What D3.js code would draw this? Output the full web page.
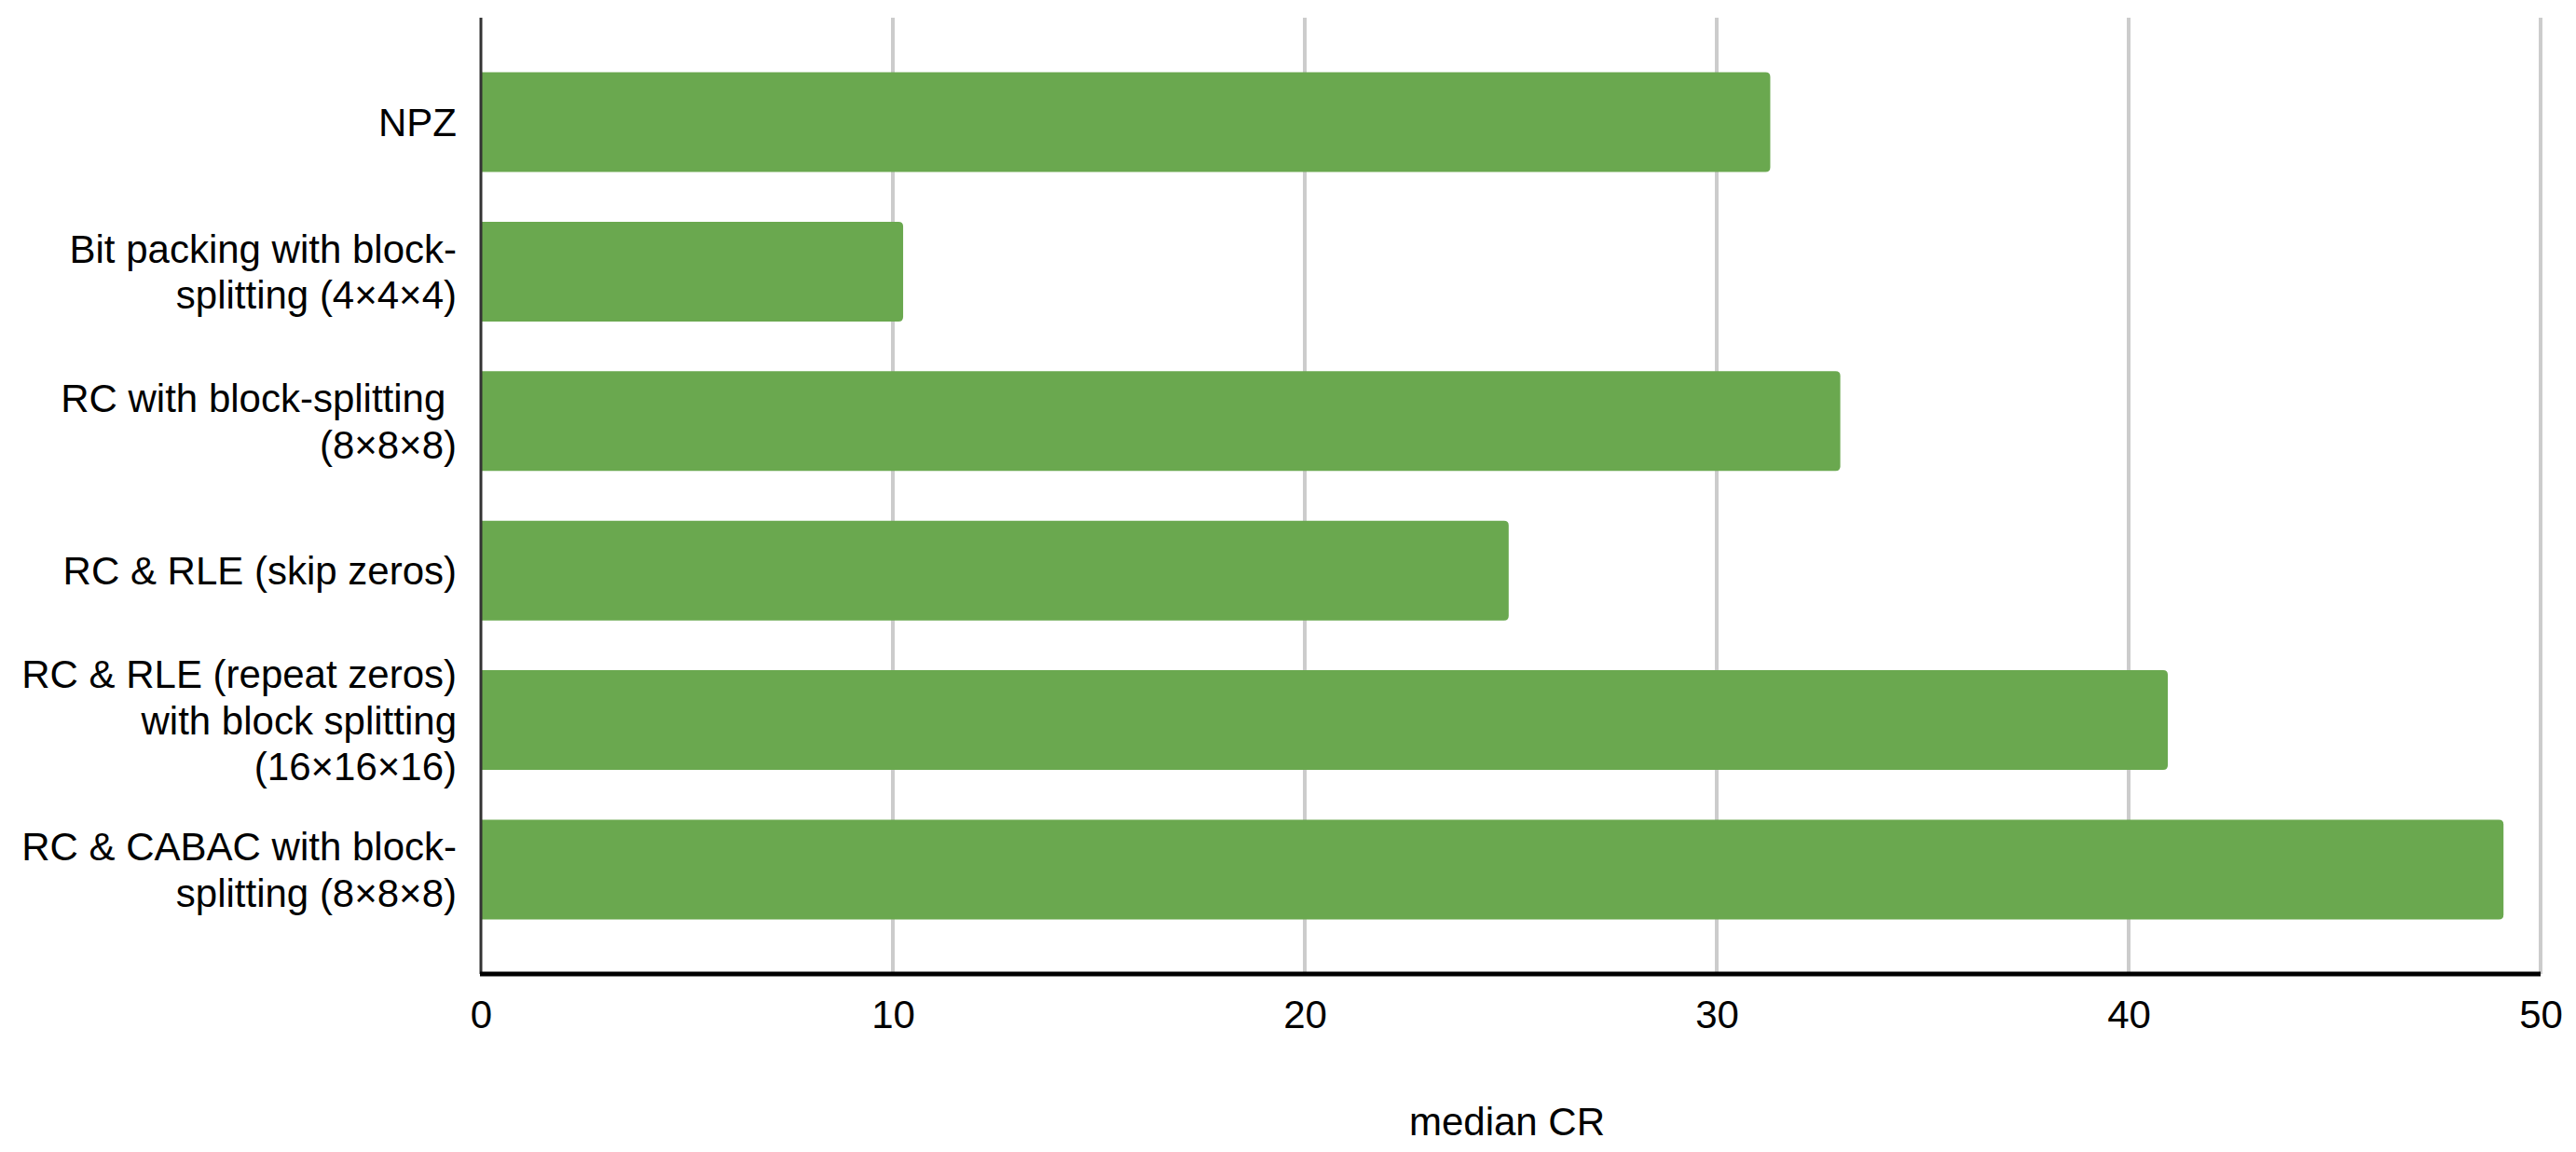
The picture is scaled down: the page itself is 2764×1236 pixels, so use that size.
<!DOCTYPE html>
<html>
<head>
<meta charset="utf-8">
<script src="https://cdn.jsdelivr.net/npm/d3@7"></script>
<style>
  html, body { margin: 0; padding: 0; background: #fff; }
  svg { display: block; }
  text { font-family: "Liberation Sans", Arial, sans-serif; fill: #000; white-space: pre; }
</style>
</head>
<body>
<svg id="chart" width="2764" height="1236"></svg>
<script>
const categories = [
  ["NPZ"],
  ["Bit packing with block-", "splitting (4×4×4)"],
  ["RC with block-splitting ", "(8×8×8)"],
  ["RC & RLE (skip zeros)"],
  ["RC & RLE (repeat zeros)", "with block splitting", "(16×16×16)"],
  ["RC & CABAC with block-", "splitting (8×8×8)"]
];
const values = [31.3, 10.25, 33.0, 24.95, 40.95, 49.1];
const xTicks = [0, 10, 20, 30, 40, 50];
const xTitle = "median CR";

(function () {
const svg = d3.select("#chart");
const plotLeft = 516, plotRight = 2726, plotTop = 19, plotBottom = 1045;
const fontSize = 42;

const x = d3.scaleLinear().domain([0, 50]).range([plotLeft, plotRight]);
const y = d3.scaleBand().domain(d3.range(categories.length))
  .range([plotTop, plotBottom]).paddingInner(0.333).paddingOuter(0.365);

// gridlines
svg.append("g").selectAll("line").data(xTicks.filter(d => d > 0)).join("line")
  .attr("x1", d => x(d)).attr("x2", d => x(d))
  .attr("y1", plotTop).attr("y2", plotBottom)
  .attr("stroke", "#cccccc").attr("stroke-width", 4);

// bars with rounded right corners
const r = 5;
svg.append("g").selectAll("path").data(values).join("path")
  .attr("fill", "#6aa84f")
  .attr("d", (d, i) => {
    const x0 = x(0), x1 = x(d), y0 = y(i), h = y.bandwidth();
    return `M${x0},${y0} H${x1 - r} Q${x1},${y0} ${x1},${y0 + r} V${y0 + h - r} Q${x1},${y0 + h} ${x1 - r},${y0 + h} H${x0} Z`;
  });

// y axis line
svg.append("line")
  .attr("x1", plotLeft).attr("x2", plotLeft).attr("y1", plotTop).attr("y2", plotBottom)
  .attr("stroke", "#333333").attr("stroke-width", 3);

// x axis line
svg.append("line")
  .attr("x1", plotLeft - 1).attr("x2", plotRight).attr("y1", plotBottom).attr("y2", plotBottom)
  .attr("stroke", "#000000").attr("stroke-width", 5);

// x axis via d3 axis (labels only)
const xAxis = svg.append("g").attr("transform", `translate(0,${plotBottom})`)
  .call(d3.axisBottom(x).tickValues(xTicks).tickSize(0).tickPadding(0).tickFormat(d3.format("d")));
xAxis.select(".domain").remove();
xAxis.selectAll("text")
  .attr("y", 58).attr("dy", null)
  .style("font-size", fontSize + "px")
  .style("font-family", '"Liberation Sans", Arial, sans-serif')
  .attr("fill", "#000");

// category labels
const lineH = 49.5;
const lab = svg.append("g").selectAll("text").data(categories).join("text")
  .attr("text-anchor", "end")
  .style("font-size", fontSize + "px");
lab.each(function (lines, i) {
  const cy = y(i) + y.bandwidth() / 2;
  const n = lines.length;
  d3.select(this).selectAll("tspan").data(lines).join("tspan")
    .attr("x", 490)
    .attr("y", (t, j) => cy + 15 + (j - (n - 1) / 2) * lineH)
    .text(t => t);
});

// axis title
svg.append("text")
  .attr("x", (plotLeft + plotRight) / 2 - 4).attr("y", 1218)
  .attr("text-anchor", "middle")
  .style("font-size", fontSize + "px")
  .text(xTitle);
})();
</script>
</body>
</html>
